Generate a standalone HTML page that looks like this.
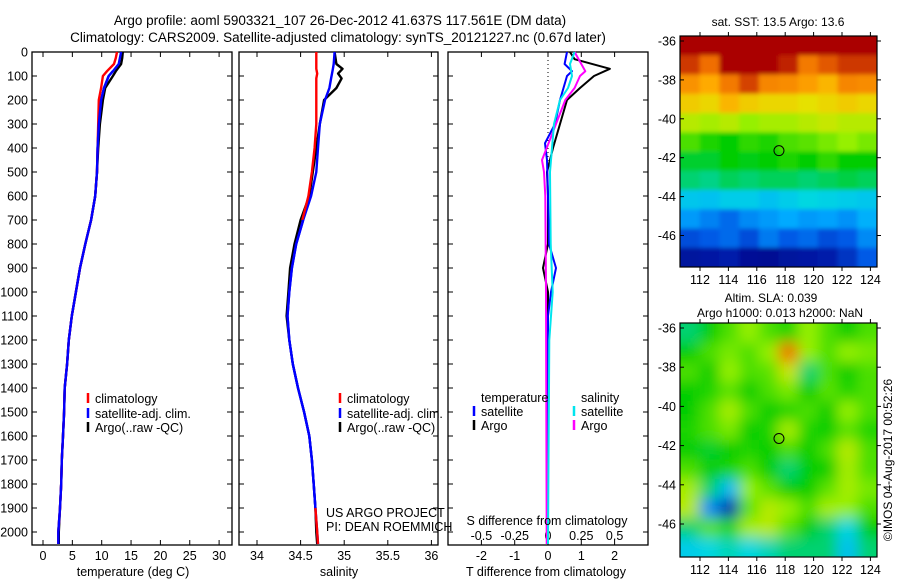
<!DOCTYPE html>
<html><head><meta charset="utf-8">
<style>
html,body{margin:0;padding:0;background:#fff;}
svg{display:block;font-family:"Liberation Sans",sans-serif;}
text{fill:#000;}
</style></head>
<body>
<svg id="fig" width="900" height="580" viewBox="0 0 900 580" xmlns="http://www.w3.org/2000/svg">
<defs>
<filter id="blur" x="0" y="0" width="100%" height="100%"><feGaussianBlur stdDeviation="7"/></filter>
<filter id="blur1" x="0" y="0" width="100%" height="100%"><feGaussianBlur stdDeviation="2"/></filter>
<clipPath id="clipm1"><rect x="680" y="36" width="197" height="231"/></clipPath>
<clipPath id="clipm2"><rect x="680" y="323" width="197" height="234"/></clipPath>
</defs>
<text x="340" y="25" font-size="13.5" text-anchor="middle">Argo profile: aoml 5903321_107 26-Dec-2012 41.637S 117.561E (DM data)</text>
<text x="338" y="42" font-size="13.5" text-anchor="middle">Climatology: CARS2009. Satellite-adjusted climatology: synTS_20121227.nc (0.67d later)</text>
<g id="g"></g>
</svg>
<script>
// ---- data ----
const depthT = [0,25,50,80,100,150,200,300,400,500,600,700,800,900,1000,1100,1200,1300,1400,1500,1600,1700,1800,1900,2000,2050];
const tempArgo = [13.6,13.5,13.3,12.4,11.9,10.6,10.2,9.7,9.4,9.2,8.9,8.2,7.2,6.3,5.6,4.9,4.4,4.1,3.7,3.6,3.4,3.2,3.1,2.9,2.7,2.7];
const tempClim = [12.6,12.4,12.1,10.9,10.2,9.9,9.5,9.4,9.3,9.2,8.9,8.2,7.2,6.3,5.6,4.9,4.4,4.1,3.7,3.6,3.4,3.2,3.1,2.9,2.6,2.6];
const tempSat = [13.3,13.1,12.9,11.9,11.2,10.4,9.9,9.5,9.3,9.2,8.9,8.2,7.2,6.3,5.6,4.9,4.4,4.1,3.7,3.6,3.4,3.2,3.1,2.9,2.6,2.6];
const depthS = [0,50,70,90,110,150,200,300,400,500,600,700,800,900,1000,1100,1200,1300,1400,1500,1600,1700,1800,1900,2000,2050];
const salArgo = [34.89,34.91,34.98,34.93,34.97,34.91,34.77,34.72,34.68,34.64,34.6,34.5,34.43,34.38,34.36,34.34,34.37,34.41,34.47,34.54,34.6,34.63,34.65,34.67,34.68,34.69];
const salClim = [34.68,34.68,34.68,34.69,34.68,34.68,34.68,34.68,34.66,34.63,34.59,34.52,34.45,34.4,34.37,34.35,34.37,34.41,34.47,34.54,34.6,34.63,34.65,34.67,34.69,34.7];
const salSat = [34.89,34.88,34.87,34.86,34.85,34.83,34.78,34.72,34.7,34.68,34.62,34.53,34.45,34.4,34.37,34.35,34.37,34.41,34.47,34.54,34.6,34.63,34.65,34.67,34.69,34.7];
const depthDA = [0,30,70,100,150,200,300,400,500,600,800,900,1000,1200,2050];
const dTArgo = [0.66,0.8,1.86,1.38,0.96,0.57,0.36,0.15,-0.03,0,0,-0.15,0,0,0];
const depthDB = [0,50,80,100,200,300,380,450,600,800,900,1000,1100,2050];
const dTSat = [0.57,0.5,0.72,0.57,0.36,0.21,-0.09,-0.03,0,0.03,0.24,0.09,0,0];
const depthDM = [0,50,80,100,150,200,300,400,450,500,600,1000,2050];
const dSArgo = [0.2,0.25,0.28,0.24,0.2,0.13,0.06,-0.01,-0.045,-0.03,-0.02,-0.015,-0.01];
const depthDC = [0,50,100,150,200,300,500,800,1000,1200,2050];
const dSSat = [0.2,0.165,0.18,0.15,0.09,0.045,0.015,0.02,0.035,0.01,0];
const depthTicks = [0,100,200,300,400,500,600,700,800,900,1000,1100,1200,1300,1400,1500,1600,1700,1800,1900,2000];
const tempTicks = [0,5,10,15,20,25,30];
const salTicks = [34,34.5,35,35.5,36];
const dTTicks = [-2,-1,0,1,2];
const dSTicks = [-0.5,-0.25,0,0.25,0.5];
const dSTickLabels = ['-0.5','-0.25','0','0.25','0.5'];
const latTicks = [-36,-38,-40,-42,-44,-46];
const lonTicks = [112,114,116,118,120,122,124];
// SST map (normalized colour 0..1), rows north->south (1 deg), cols west->east
const sstGrid = [
[1,1,1,1,1,1,1,1,1,1],
[0.95,0.9,1,1,1,0.97,0.88,0.92,0.95,0.95],
[0.84,0.8,0.88,0.94,0.86,0.85,0.82,0.78,0.86,0.85],
[0.74,0.72,0.78,0.74,0.72,0.72,0.7,0.72,0.74,0.72],
[0.64,0.62,0.64,0.6,0.62,0.62,0.64,0.66,0.64,0.64],
[0.55,0.52,0.5,0.53,0.52,0.55,0.56,0.58,0.6,0.58],
[0.48,0.48,0.5,0.49,0.5,0.52,0.5,0.53,0.5,0.5],
[0.45,0.44,0.46,0.45,0.46,0.46,0.45,0.46,0.47,0.46],
[0.37,0.36,0.38,0.38,0.36,0.38,0.4,0.39,0.38,0.37],
[0.3,0.27,0.24,0.28,0.3,0.32,0.3,0.31,0.29,0.33],
[0.2,0.22,0.24,0.2,0.26,0.22,0.24,0.2,0.22,0.28],
[0.08,0.1,0.12,0.06,0.05,0.08,0.1,0.12,0.16,0.22]];
// SLA map (normalized colour 0..1)
const slaGrid = [
[0.45,0.5,0.55,0.6,0.55,0.52,0.6,0.55,0.5,0.55],
[0.5,0.55,0.58,0.55,0.6,0.9,0.6,0.55,0.6,0.58],
[0.55,0.5,0.6,0.55,0.56,0.66,0.45,0.55,0.5,0.55],
[0.5,0.52,0.56,0.5,0.55,0.58,0.5,0.56,0.52,0.55],
[0.5,0.55,0.62,0.55,0.5,0.52,0.55,0.5,0.6,0.55],
[0.52,0.55,0.58,0.5,0.52,0.62,0.52,0.5,0.56,0.52],
[0.5,0.48,0.5,0.52,0.5,0.55,0.5,0.55,0.64,0.55],
[0.55,0.5,0.52,0.55,0.5,0.45,0.5,0.5,0.62,0.55],
[0.62,0.45,0.35,0.6,0.56,0.5,0.5,0.56,0.62,0.58],
[0.64,0.28,0.12,0.56,0.64,0.6,0.55,0.62,0.6,0.55],
[0.45,0.56,0.52,0.62,0.64,0.56,0.5,0.45,0.4,0.5],
[0.38,0.4,0.42,0.4,0.42,0.45,0.45,0.45,0.36,0.45]];

const NS='http://www.w3.org/2000/svg';
const G=document.getElementById('g');
function mk(tag,attrs,parent){const e=document.createElementNS(NS,tag);for(const k in attrs)e.setAttribute(k,attrs[k]);(parent||G).appendChild(e);return e;}
function txt(x,y,s,size,anchor,parent){const e=mk('text',{x:x,y:y,'font-size':size||12.5,'text-anchor':anchor||'start'},parent);e.textContent=s;return e;}

const Y0=52, YS=(532-52)/2000;
const yD=d=>Y0+d*YS;
const xT=v=>43+v*5.87;
const xS=v=>257+(v-34)*87.2;
const xdT=v=>548+v*33.3;
const xdS=v=>548+v*133.2;
const PB=545;

function panel(x0,x1,name){
  const r=mk('rect',{x:x0,y:Y0,width:x1-x0,height:PB-Y0,fill:'none',stroke:'#000','stroke-width':1.3});
  
  
}
function vTicksBottom(ticks,fx,labels,y,name){
  ticks.forEach((t,i)=>{
    const x=fx(t);
    const l1=mk('line',{x1:x,x2:x,y1:PB,y2:PB-5,stroke:'#000'});
    
    
    const l2=mk('line',{x1:x,x2:x,y1:Y0,y2:Y0+5,stroke:'#000'});
    
    
    if(labels){const e=txt(x,y,labels[i],12.5,'middle');
      
      }
  });
}
function profile(xs,ds,fx,color,name,w){
  const pts=xs.map((v,i)=>fx(v).toFixed(1)+','+yD(ds[i]).toFixed(1)).join(' ');
  const p=mk('polyline',{points:pts,fill:'none',stroke:color,'stroke-width':w||2.4,'stroke-linejoin':'round'});
  
  
}
function legend(x,y,color,label,name){
  const l=mk('line',{x1:x,x2:x,y1:y-10,y2:y,stroke:color,'stroke-width':2.5});
  
  
  const t=txt(x+7,y,label,12.5);
  
  
}

// Panel 1: temperature
panel(32,232,'temperature-panel');
depthTicks.forEach(d=>{
  const y=yD(d);
  const l=mk('line',{x1:32,x2:37,y1:y,y2:y,stroke:'#000'});
  
  
  const l2=mk('line',{x1:232,x2:227,y1:y,y2:y,stroke:'#000'});
  
  
  const t=txt(28,y+4.5,String(d),12.5,'end');
  
  
});
vTicksBottom(tempTicks,xT,tempTicks.map(String),560,'temperature-axis');
profile(tempArgo,depthT,xT,'#000','temperature-argo-line');
profile(tempSat,depthT,xT,'#0000ff','temperature-satellite-line');
profile(tempClim,depthT,xT,'#ff0000','temperature-climatology-line');
profile(tempSat.slice(3),depthT.slice(3),xT,'#0000ff','temperature-satellite-line-deep');
let e=txt(133,576,'temperature (deg C)',12.5,'middle');


legend(88,403,'#ff0000','climatology','temp-legend-climatology');
legend(88,418,'#0000ff','satellite-adj. clim.','temp-legend-satellite');
legend(88,432,'#000','Argo(..raw -QC)','temp-legend-argo');

// Panel 2: salinity
panel(239,438,'salinity-panel');
depthTicks.forEach(d=>{
  const y=yD(d);
  const l=mk('line',{x1:239,x2:244,y1:y,y2:y,stroke:'#000'});
  
  
  const l2=mk('line',{x1:438,x2:433,y1:y,y2:y,stroke:'#000'});
  
  
});
vTicksBottom(salTicks,xS,salTicks.map(String),560,'salinity-axis');
profile(salArgo,depthS,xS,'#000','salinity-argo-line');
profile(salSat,depthS,xS,'#0000ff','salinity-satellite-line');
profile(salClim.slice(0,12),depthS.slice(0,12),xS,'#ff0000','salinity-climatology-line');
profile(salSat.slice(11,24),depthS.slice(11,24),xS,'#0000ff','salinity-satellite-line-deep');
profile(salClim.slice(23),depthS.slice(23),xS,'#ff0000','salinity-climatology-line-bottom');
e=txt(339,576,'salinity',12.5,'middle');


legend(340,403,'#ff0000','climatology','sal-legend-climatology');
legend(340,418,'#0000ff','satellite-adj. clim.','sal-legend-satellite');
legend(340,432,'#000','Argo(..raw -QC)','sal-legend-argo');
e=txt(326,517,'US ARGO PROJECT',12.5);


e=txt(326,531,'PI: DEAN ROEMMICH',12.5);



// Panel 3: differences
panel(448,648,'difference-panel');
depthTicks.forEach(d=>{
  const y=yD(d);
  const l=mk('line',{x1:448,x2:453,y1:y,y2:y,stroke:'#000'});
  
  
  const l2=mk('line',{x1:648,x2:643,y1:y,y2:y,stroke:'#000'});
  
  
});
vTicksBottom(dTTicks,xdT,dTTicks.map(String),560,'t-difference-axis');
dSTicks.forEach((t,i)=>{
  const s=txt(xdS(t),540,dSTickLabels[i],12.5,'middle');
  
  
});
const dl=mk('line',{x1:xdT(0),x2:xdT(0),y1:Y0,y2:yD(500),stroke:'#000','stroke-dasharray':'1,3'});


profile(dTArgo,depthDA,xdT,'#000','t-difference-argo-line',2);
profile(dTSat,depthDB,xdT,'#0000ff','t-difference-satellite-line',2);
profile(dSArgo,depthDM,xdS,'#ff00ff','s-difference-argo-line',2);
profile(dSSat,depthDC,xdS,'#00e5ee','s-difference-satellite-line',2);
e=txt(547,525,'S difference from climatology',12.5,'middle');


e=txt(546,576,'T difference from climatology',12.5,'middle');


e=txt(481,402,'temperature',12.5);


e=txt(581,402,'salinity',12.5);


legend(474,416,'#0000ff','satellite','diff-legend-t-satellite');
legend(474,430,'#000','Argo','diff-legend-t-argo');
legend(574,416,'#00e5ee','satellite','diff-legend-s-satellite');
legend(574,430,'#ff00ff','Argo','diff-legend-s-argo');

// maps
const cmapStops=[0,0.12,0.22,0.32,0.4,0.5,0.6,0.7,0.8,0.9,1];
const cmapR=[0,0,0,0,0,0,150,230,255,240,170];
const cmapG=[0,30,90,170,215,205,240,225,170,110,0];
const cmapB=[130,170,230,255,225,0,0,0,0,0,0];
function jet(v){
  v=Math.max(0,Math.min(1,v));
  let i=0; while(i<cmapStops.length-2 && v>cmapStops[i+1]) i++;
  const f=(v-cmapStops[i])/(cmapStops[i+1]-cmapStops[i]);
  const c=a=>Math.round(a[i]+(a[i+1]-a[i])*f);
  return 'rgb('+c(cmapR)+','+c(cmapG)+','+c(cmapB)+')';
}
function map(grid,top,bot,latTop,latPx,clip,filt,name){
  const x0=680,x1=877;
  const lonPx=14.2;
  const xL=v=>700+(v-112)*lonPx;
  const yL=v=>latTop+(v+36)*-latPx;
  const g=mk('g',{'clip-path':'url(#'+clip+')'});
  
  
  const inner=mk('g',{filter:'url(#'+filt+')'},g);
  const rows=grid.length, cols=grid[0].length;
  const cw=(x1-x0)/cols, ch=(bot-top)/rows;
  const bg=mk('rect',{x:x0-20,y:top-20,width:x1-x0+40,height:bot-top+40,fill:jet(grid[0][0])},inner);
  
  
  grid.forEach((row,i)=>row.forEach((v,j)=>{
    const c=mk('rect',{x:x0+j*cw-(j==0?20:0),y:top+i*ch-(i==0?20:0),width:cw+0.6+(j==0||j==cols-1?20:0),height:ch+0.6+(i==0||i==rows-1?20:0),fill:jet(v)},inner);
    
    
  }));
  const fr=mk('rect',{x:x0,y:top,width:x1-x0,height:bot-top,fill:'none',stroke:'#000','stroke-width':1.2});
  
  
  latTicks.forEach(t=>{
    const y=yL(t);
    const l=mk('line',{x1:x0,x2:x0+4,y1:y,y2:y,stroke:'#000'});
    
    
    const l2=mk('line',{x1:x1,x2:x1+4,y1:y,y2:y,stroke:'#000'});
    
    
    const s=txt(676,y+4.5,String(t),12.5,'end');
    
    
  });
  lonTicks.forEach(t=>{
    const x=xL(t);
    const l=mk('line',{x1:x,x2:x,y1:bot,y2:bot+4,stroke:'#000'});
    
    
    const l2=mk('line',{x1:x,x2:x,y1:top,y2:top-4,stroke:'#000'});
    
    
    const s=txt(x,bot+17,String(t),12.5,'middle');
    
    
  });
  const c=mk('circle',{cx:xL(117.561),cy:yL(-41.637),r:5,fill:'none',stroke:'#000','stroke-width':1});
  
  
}
map(sstGrid,36,267,41,19.45,'clipm1','blur1','sst-map');
map(slaGrid,323,557,328,19.6,'clipm2','blur','sla-map');
e=txt(778,26,'sat. SST: 13.5  Argo: 13.6',12,'middle');


e=txt(771,302,'Altim. SLA: 0.039',12,'middle');


e=txt(780,317,'Argo h1000: 0.013 h2000: NaN',12,'middle');


e=txt(0,0,'©IMOS 04-Aug-2017 00:52:26',12,'middle');
e.setAttribute('transform','translate(892,460) rotate(-90)');


</script>
</body></html>
